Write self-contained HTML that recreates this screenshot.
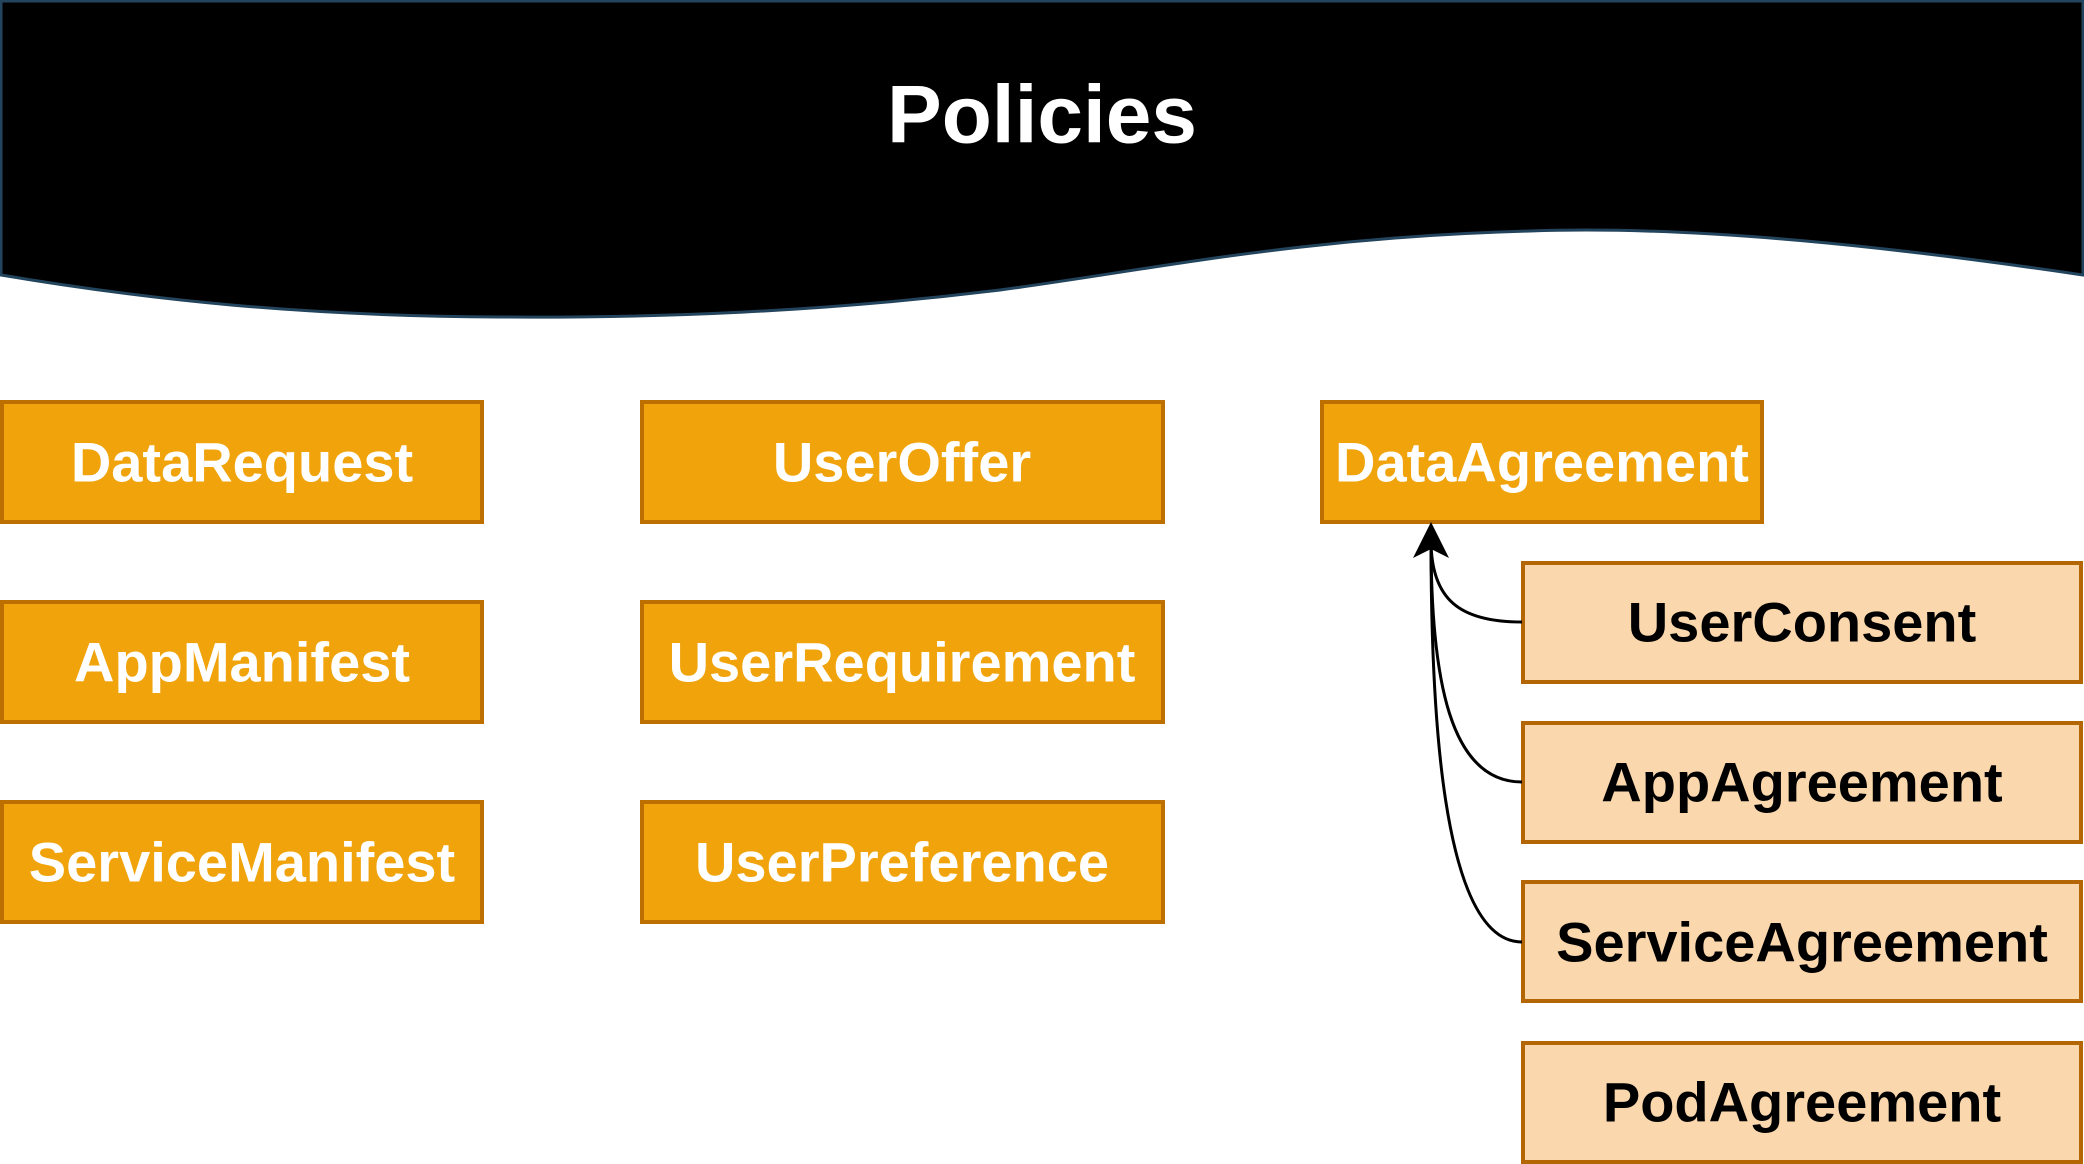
<!DOCTYPE html>
<html><head><meta charset="utf-8"><style>
html,body{margin:0;padding:0;background:#fff;}
svg{display:block;}
text{font-family:"Liberation Sans",Arial,sans-serif;font-weight:bold;text-anchor:middle;dominant-baseline:central;}
</style></head><body>
<svg width="2084" height="1164" viewBox="0 0 2084 1164" xmlns="http://www.w3.org/2000/svg">
<path d="M1,1 H2083 V275 C1900,248 1700,225 1530,231 C1300,237 1150,270 1000,290 C820,312 660,318 500,317 C300,316 150,300 1,275 Z" fill="#000" stroke="#23445d" stroke-width="3"/>
<text x="1042" y="115" fill="#fff" font-size="82">Policies</text>

<g fill="#f0a30a" stroke="#bd7000" stroke-width="4">
<rect x="2" y="402" width="480" height="120"/>
<rect x="642" y="402" width="521" height="120"/>
<rect x="1322" y="402" width="440" height="120"/>
<rect x="2" y="602" width="480" height="120"/>
<rect x="642" y="602" width="521" height="120"/>
<rect x="2" y="802" width="480" height="120"/>
<rect x="642" y="802" width="521" height="120"/>
</g>
<g fill="#fad7ac" stroke="#b46504" stroke-width="4">
<rect x="1523" y="563" width="558" height="119"/>
<rect x="1523" y="723" width="558" height="119"/>
<rect x="1523" y="882" width="558" height="119"/>
<rect x="1523" y="1043" width="558" height="119"/>
</g>
<g fill="#fff" font-size="56">
<text x="242" y="462">DataRequest</text>
<text x="902" y="462">UserOffer</text>
<text x="1542" y="462">DataAgreement</text>
<text x="242" y="662">AppManifest</text>
<text x="902" y="662">UserRequirement</text>
<text x="242" y="862">ServiceManifest</text>
<text x="902" y="862">UserPreference</text>
</g>
<g fill="#000" font-size="56">
<text x="1802" y="622">UserConsent</text>
<text x="1802" y="782">AppAgreement</text>
<text x="1802" y="942">ServiceAgreement</text>
<text x="1802" y="1102">PodAgreement</text>
</g>
<g fill="none" stroke="#000" stroke-width="3">
<path d="M1522,622 C1460,622 1431,600 1431,540"/>
<path d="M1522,782 C1450,782 1431,680 1431,540"/>
<path d="M1522,942 C1440,942 1431,700 1431,540"/>
</g>
<path d="M1431,522 L1449,558 L1431,549 L1413,558 Z" fill="#000"/>
</svg>
</body></html>
